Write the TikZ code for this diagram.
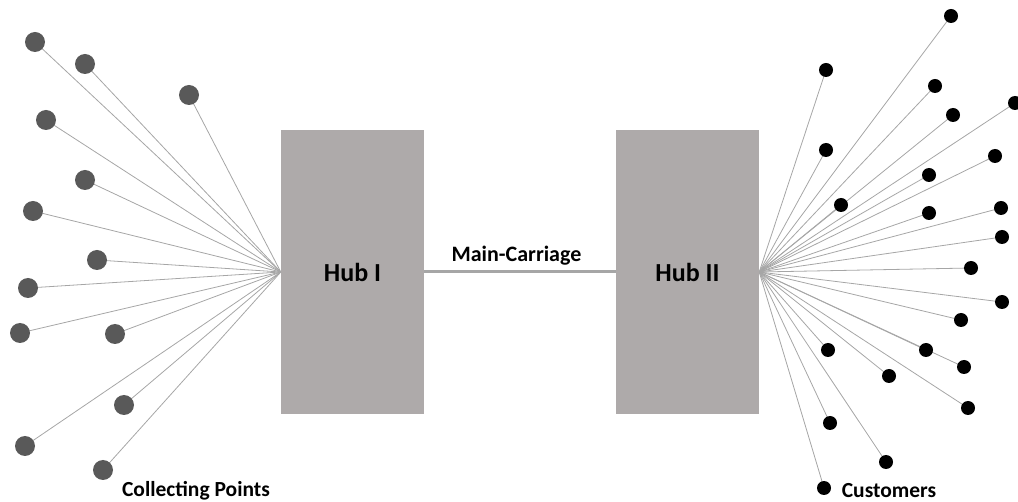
\documentclass[tikz,border=0pt]{standalone}
\usepackage{fontspec}
\setmainfont{Carlito}
\usetikzlibrary{backgrounds}
\definecolor{hubfill}{HTML}{AEAAAA}
\definecolor{srcdot}{HTML}{595959}
\definecolor{spoke}{HTML}{A6A6A6}
\tikzset{
  hub/.style={draw=none, fill=hubfill, minimum width=143pt, minimum height=284pt, inner sep=0pt,
              font=\bfseries\fontsize{26}{31}\selectfont},
  srcpt/.style={circle, fill=srcdot, minimum size=20pt, inner sep=0pt},
  dstpt/.style={circle, fill=black, minimum size=14pt, inner sep=0pt},
  spokeline/.style={draw=spoke, line width=0.8pt},
  label/.style={font=\bfseries\fontsize{21.5}{26}\selectfont, inner sep=0pt},
}
\begin{document}
\begin{tikzpicture}[x=1pt, y=-1pt]
  \useasboundingbox (0,0) rectangle (1018,502);

  % the two hubs
  \node[hub] (hubI)  at (352.5,272) {Hub I};
  \node[hub] (hubII) at (687.5,272) {Hub II};

  % main carriage link
  \draw[draw=spoke, line width=3pt] (hubI.east) -- (hubII.west);
  \node[label, font=\bfseries\fontsize{22}{26}\selectfont] (mc) at (516.5,256) {Main-Carriage};

  % collecting points
  \foreach \n/\x/\y in {a/35/42, b/85/64, c/189/95, d/46/120, e/85/180, f/33/211,
                        g/97/260, h/28/288, i/20/333, j/115/334, k/124/405, l/25/446, m/103/470} {
    \node[srcpt] (cp\n) at (\x,\y) {};
    \begin{scope}[on background layer]
      \draw[spokeline] (cp\n.center) -- (hubI.west);
    \end{scope}
  }

  % customers
  \foreach \n/\x/\y in {a/951/16, b/826/70, c/935/86, d/1015/103, e/953/115, f/826/150,
                        g/995/156, h/929/175, i/841/205, j/929/213, k/1001/208, l/1002/237,
                        m/971/268, n/1002/302, o/961/320, p/828/350, q/926/350, r/964/367,
                        s/889/376, t/968/408, u/830/423, v/886/462, w/824/488} {
    \node[dstpt] (cu\n) at (\x,\y) {};
    \begin{scope}[on background layer]
      \draw[spokeline] (cu\n.center) -- (hubII.east);
    \end{scope}
  }

  % captions
  \node[label] (cplabel) at (196,491) {Collecting Points};
  \node[label] (culabel) at (889,491) {Customers};
\end{tikzpicture}
\end{document}
